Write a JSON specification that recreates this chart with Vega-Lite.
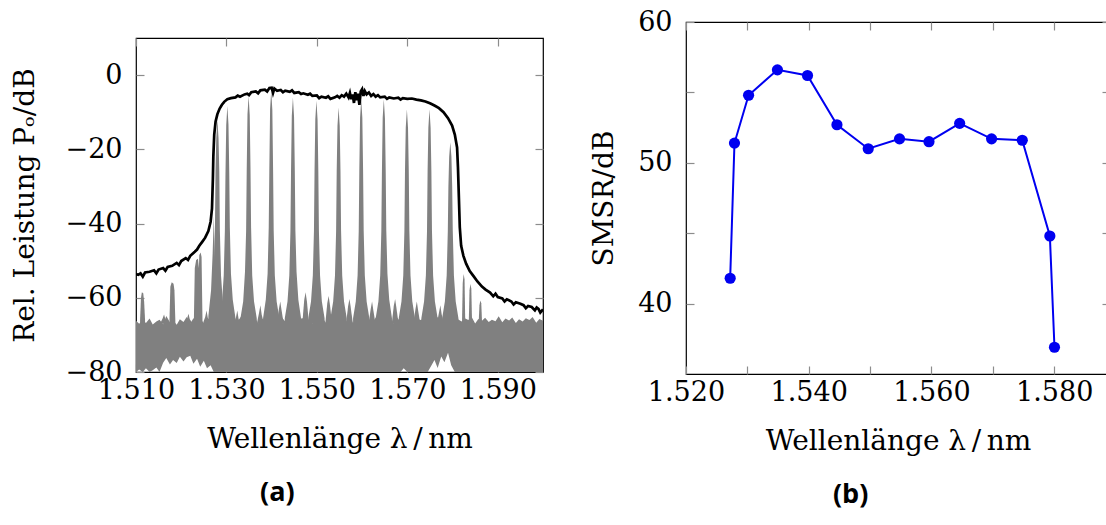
{
  "$schema": "https://vega.github.io/schema/vega-lite/v6.json",
  "background": "white",
  "padding": {"left": 10, "top": 7, "right": 0, "bottom": 0},
  "spacing": 45,
  "config": {
    "concat": {"spacing": 13},
    "view": {"stroke": "#000", "strokeWidth": 1.2},
    "axis": {"domain": false, "grid": false, "tickColor": "#8c8c8c", "tickSize": -8, "tickWidth": 1.2,
      "labelFont": "DejaVu Serif", "labelFontSize": 27, "labelColor": "#000", "labelFlush": false, "labelOverlap": false,
      "titleFont": "DejaVu Serif", "titleFontSize": 28, "titleFontWeight": "normal", "titleColor": "#000"},
    "title": {"font": "Open Sans", "fontSize": 27, "fontWeight": "bold", "color": "#000"}
  },
  "datasets": {
    "floor": [
      {"x":1510.0,"hi":-66.2,"lo":-80},{"x":1510.7,"hi":-67.0,"lo":-79.3},{"x":1511.5,"hi":-66.0,"lo":-80},{"x":1512.2,"hi":-66.8,"lo":-79.0},
      {"x":1513.0,"hi":-65.6,"lo":-80},{"x":1513.7,"hi":-67.2,"lo":-79.5},{"x":1514.5,"hi":-66.4,"lo":-78.8},{"x":1515.2,"hi":-65.9,"lo":-80},
      {"x":1516.0,"hi":-67.1,"lo":-77.5},{"x":1516.7,"hi":-64.9,"lo":-76.2},{"x":1517.5,"hi":-66.6,"lo":-78.0},{"x":1518.2,"hi":-66.0,"lo":-76.8},
      {"x":1519.0,"hi":-67.3,"lo":-77.6},{"x":1519.7,"hi":-65.8,"lo":-75.9},{"x":1520.5,"hi":-66.5,"lo":-77.2},{"x":1521.2,"hi":-65.2,"lo":-76.0},
      {"x":1522.0,"hi":-66.9,"lo":-75.6},{"x":1522.7,"hi":-65.5,"lo":-77.8},{"x":1523.5,"hi":-66.3,"lo":-76.4},{"x":1524.2,"hi":-65.7,"lo":-78.6},
      {"x":1525.0,"hi":-66.8,"lo":-77.0},{"x":1525.7,"hi":-65.3,"lo":-79.0},{"x":1526.5,"hi":-66.1,"lo":-78.2},{"x":1527.2,"hi":-65.6,"lo":-80},
      {"x":1528.0,"hi":-66.4,"lo":-80},{"x":1528.7,"hi":-65.0,"lo":-80},{"x":1529.5,"hi":-66.2,"lo":-80},{"x":1530.2,"hi":-65.4,"lo":-80},
      {"x":1531.0,"hi":-66.7,"lo":-80},{"x":1531.7,"hi":-65.8,"lo":-80},{"x":1532.5,"hi":-66.3,"lo":-80},{"x":1533.2,"hi":-65.1,"lo":-80},
      {"x":1534.0,"hi":-66.6,"lo":-80},{"x":1534.7,"hi":-65.7,"lo":-80},{"x":1535.5,"hi":-66.2,"lo":-80},{"x":1536.2,"hi":-65.0,"lo":-80},
      {"x":1537.0,"hi":-66.9,"lo":-80},{"x":1537.7,"hi":-65.6,"lo":-80},{"x":1538.5,"hi":-66.0,"lo":-80},{"x":1539.2,"hi":-65.3,"lo":-80},
      {"x":1540.0,"hi":-66.5,"lo":-80},{"x":1540.7,"hi":-65.9,"lo":-80},{"x":1541.5,"hi":-66.8,"lo":-80},{"x":1542.2,"hi":-65.2,"lo":-80},
      {"x":1543.0,"hi":-66.4,"lo":-80},{"x":1543.7,"hi":-65.7,"lo":-80},{"x":1544.5,"hi":-66.1,"lo":-80},{"x":1545.2,"hi":-65.0,"lo":-80},
      {"x":1546.0,"hi":-66.6,"lo":-80},{"x":1546.7,"hi":-65.4,"lo":-80},{"x":1547.5,"hi":-66.3,"lo":-80},{"x":1548.2,"hi":-65.8,"lo":-80},
      {"x":1549.0,"hi":-66.9,"lo":-80},{"x":1549.7,"hi":-65.5,"lo":-80},{"x":1550.5,"hi":-66.0,"lo":-80},{"x":1551.2,"hi":-65.3,"lo":-80},
      {"x":1552.0,"hi":-66.7,"lo":-80},{"x":1552.7,"hi":-65.6,"lo":-80},{"x":1553.5,"hi":-66.2,"lo":-80},{"x":1554.2,"hi":-65.1,"lo":-80},
      {"x":1555.0,"hi":-66.5,"lo":-80},{"x":1555.7,"hi":-65.9,"lo":-80},{"x":1556.5,"hi":-66.4,"lo":-80},{"x":1557.2,"hi":-65.2,"lo":-80},
      {"x":1558.0,"hi":-66.8,"lo":-80},{"x":1558.7,"hi":-65.7,"lo":-80},{"x":1559.5,"hi":-66.0,"lo":-80},{"x":1560.2,"hi":-65.4,"lo":-80},
      {"x":1561.0,"hi":-66.6,"lo":-80},{"x":1561.7,"hi":-65.8,"lo":-80},{"x":1562.5,"hi":-66.3,"lo":-80},{"x":1563.2,"hi":-65.0,"lo":-80},
      {"x":1564.0,"hi":-66.7,"lo":-80},{"x":1564.7,"hi":-65.5,"lo":-80},{"x":1565.5,"hi":-66.1,"lo":-80},{"x":1566.2,"hi":-65.6,"lo":-80},
      {"x":1567.0,"hi":-66.9,"lo":-80},{"x":1567.7,"hi":-65.3,"lo":-80},{"x":1568.5,"hi":-66.4,"lo":-80},{"x":1569.2,"hi":-65.8,"lo":-79.0},
      {"x":1570.0,"hi":-66.2,"lo":-80},{"x":1570.7,"hi":-65.1,"lo":-80},{"x":1571.5,"hi":-66.5,"lo":-80},{"x":1572.2,"hi":-65.7,"lo":-80},
      {"x":1573.0,"hi":-66.0,"lo":-80},{"x":1573.7,"hi":-65.4,"lo":-80},{"x":1574.5,"hi":-66.8,"lo":-80},{"x":1575.2,"hi":-65.9,"lo":-78.5},
      {"x":1576.0,"hi":-66.3,"lo":-76.8},{"x":1576.7,"hi":-65.2,"lo":-78.9},{"x":1577.5,"hi":-66.6,"lo":-75.8},{"x":1578.2,"hi":-65.6,"lo":-77.4},
      {"x":1579.0,"hi":-66.1,"lo":-74.8},{"x":1579.7,"hi":-65.3,"lo":-78.2},{"x":1580.5,"hi":-66.7,"lo":-80},{"x":1581.2,"hi":-65.8,"lo":-80},
      {"x":1582.0,"hi":-66.4,"lo":-80},{"x":1582.7,"hi":-65.5,"lo":-80},{"x":1583.5,"hi":-66.0,"lo":-80},{"x":1584.2,"hi":-65.1,"lo":-80},
      {"x":1585.0,"hi":-66.9,"lo":-80},{"x":1585.7,"hi":-65.7,"lo":-80},{"x":1586.5,"hi":-66.2,"lo":-80},{"x":1587.2,"hi":-65.4,"lo":-80},
      {"x":1588.0,"hi":-66.5,"lo":-80},{"x":1588.7,"hi":-65.9,"lo":-80},{"x":1589.5,"hi":-66.3,"lo":-80},{"x":1590.2,"hi":-65.0,"lo":-80},
      {"x":1591.0,"hi":-66.6,"lo":-80},{"x":1591.7,"hi":-65.6,"lo":-80},{"x":1592.5,"hi":-66.1,"lo":-80},{"x":1593.2,"hi":-65.3,"lo":-80},
      {"x":1594.0,"hi":-66.8,"lo":-80},{"x":1594.7,"hi":-65.8,"lo":-80},{"x":1595.5,"hi":-66.4,"lo":-80},{"x":1596.2,"hi":-65.5,"lo":-80},
      {"x":1597.0,"hi":-66.0,"lo":-80},{"x":1597.7,"hi":-65.2,"lo":-80},{"x":1598.5,"hi":-66.7,"lo":-80},{"x":1599.2,"hi":-65.7,"lo":-80},
      {"x":1600.0,"hi":-66.2,"lo":-80}
    ],
    "peaks": [
      {"c":"A","x":1526.0,"y":-65},{"c":"A","x":1526.6,"y":-58},{"c":"A","x":1526.95,"y":-48},{"c":"A","x":1527.2,"y":-38},{"c":"A","x":1527.4,"y":-47},{"c":"A","x":1527.7,"y":-60},
      {"c":"B","x":1526.2,"y":-65.5},{"c":"B","x":1526.8,"y":-61},{"c":"B","x":1527.2,"y":-54},{"c":"B","x":1527.45,"y":-42},{"c":"B","x":1527.58,"y":-26},{"c":"B","x":1527.75,"y":-17},{"c":"B","x":1528.0,"y":-12},{"c":"B","x":1528.25,"y":-17},{"c":"B","x":1528.42,"y":-26},{"c":"B","x":1528.55,"y":-42},{"c":"B","x":1528.8,"y":-54},{"c":"B","x":1529.2,"y":-61},{"c":"B","x":1529.8,"y":-65.5},
      {"c":"C","x":1528.4,"y":-65.5},{"c":"C","x":1529.0,"y":-61.5},{"c":"C","x":1529.4,"y":-54},{"c":"C","x":1529.65,"y":-42},{"c":"C","x":1529.78,"y":-27},{"c":"C","x":1529.95,"y":-13.5},{"c":"C","x":1530.2,"y":-8.3},{"c":"C","x":1530.45,"y":-13.3},{"c":"C","x":1530.62,"y":-26},{"c":"C","x":1530.75,"y":-41},{"c":"C","x":1531.0,"y":-53.5},{"c":"C","x":1531.4,"y":-60.5},{"c":"C","x":1532.0,"y":-65.5},
      {"c":"D","x":1533.1,"y":-65.5},{"c":"D","x":1533.7,"y":-61},{"c":"D","x":1534.1,"y":-53},{"c":"D","x":1534.35,"y":-42},{"c":"D","x":1534.48,"y":-26},{"c":"D","x":1534.65,"y":-10.6},{"c":"D","x":1534.9,"y":-5.6},{"c":"D","x":1535.15,"y":-10.8},{"c":"D","x":1535.32,"y":-25},{"c":"D","x":1535.45,"y":-41},{"c":"D","x":1535.7,"y":-54},{"c":"D","x":1536.1,"y":-61},{"c":"D","x":1536.7,"y":-65.5},
      {"c":"E","x":1538.1,"y":-65.5},{"c":"E","x":1538.7,"y":-60.5},{"c":"E","x":1539.1,"y":-53.5},{"c":"E","x":1539.35,"y":-41},{"c":"E","x":1539.48,"y":-26},{"c":"E","x":1539.65,"y":-9.2},{"c":"E","x":1539.9,"y":-4.2},{"c":"E","x":1540.15,"y":-9.4},{"c":"E","x":1540.32,"y":-26},{"c":"E","x":1540.45,"y":-42},{"c":"E","x":1540.7,"y":-54},{"c":"E","x":1541.1,"y":-61},{"c":"E","x":1541.7,"y":-65.5},
      {"c":"F","x":1542.9,"y":-65.5},{"c":"F","x":1543.5,"y":-61},{"c":"F","x":1543.9,"y":-54},{"c":"F","x":1544.15,"y":-42},{"c":"F","x":1544.28,"y":-26},{"c":"F","x":1544.45,"y":-11},{"c":"F","x":1544.7,"y":-6.0},{"c":"F","x":1544.95,"y":-11.2},{"c":"F","x":1545.12,"y":-26},{"c":"F","x":1545.25,"y":-42},{"c":"F","x":1545.5,"y":-53},{"c":"F","x":1545.9,"y":-60.5},{"c":"F","x":1546.5,"y":-65.5},
      {"c":"G","x":1548.1,"y":-65.5},{"c":"G","x":1548.7,"y":-61},{"c":"G","x":1549.1,"y":-54},{"c":"G","x":1549.35,"y":-42},{"c":"G","x":1549.48,"y":-26},{"c":"G","x":1549.65,"y":-11.9},{"c":"G","x":1549.9,"y":-6.9},{"c":"G","x":1550.15,"y":-12},{"c":"G","x":1550.32,"y":-26},{"c":"G","x":1550.45,"y":-42},{"c":"G","x":1550.7,"y":-54},{"c":"G","x":1551.1,"y":-61},{"c":"G","x":1551.7,"y":-65.5},
      {"c":"H","x":1553.0,"y":-65.5},{"c":"H","x":1553.6,"y":-61},{"c":"H","x":1554.0,"y":-54},{"c":"H","x":1554.25,"y":-42},{"c":"H","x":1554.38,"y":-26},{"c":"H","x":1554.55,"y":-13.7},{"c":"H","x":1554.8,"y":-8.7},{"c":"H","x":1555.05,"y":-13.7},{"c":"H","x":1555.22,"y":-26},{"c":"H","x":1555.35,"y":-42},{"c":"H","x":1555.6,"y":-54},{"c":"H","x":1556.0,"y":-61},{"c":"H","x":1556.6,"y":-65.5},
      {"c":"I","x":1558.0,"y":-65.5},{"c":"I","x":1558.6,"y":-61},{"c":"I","x":1559.0,"y":-54},{"c":"I","x":1559.25,"y":-42},{"c":"I","x":1559.38,"y":-26},{"c":"I","x":1559.55,"y":-11.5},{"c":"I","x":1559.8,"y":-6.5},{"c":"I","x":1560.05,"y":-11.5},{"c":"I","x":1560.22,"y":-26},{"c":"I","x":1560.35,"y":-42},{"c":"I","x":1560.6,"y":-54},{"c":"I","x":1561.0,"y":-61},{"c":"I","x":1561.6,"y":-65.5},
      {"c":"J","x":1563.0,"y":-65.5},{"c":"J","x":1563.6,"y":-61},{"c":"J","x":1564.0,"y":-54},{"c":"J","x":1564.25,"y":-42},{"c":"J","x":1564.38,"y":-26},{"c":"J","x":1564.55,"y":-11.5},{"c":"J","x":1564.8,"y":-6.5},{"c":"J","x":1565.05,"y":-11.6},{"c":"J","x":1565.22,"y":-26},{"c":"J","x":1565.35,"y":-42},{"c":"J","x":1565.6,"y":-53.5},{"c":"J","x":1566.0,"y":-60.5},{"c":"J","x":1566.6,"y":-65.5},
      {"c":"K","x":1568.1,"y":-65.5},{"c":"K","x":1568.7,"y":-61},{"c":"K","x":1569.1,"y":-54},{"c":"K","x":1569.35,"y":-42},{"c":"K","x":1569.48,"y":-26},{"c":"K","x":1569.65,"y":-14.2},{"c":"K","x":1569.9,"y":-9.2},{"c":"K","x":1570.15,"y":-14.2},{"c":"K","x":1570.32,"y":-26},{"c":"K","x":1570.45,"y":-42},{"c":"K","x":1570.7,"y":-54},{"c":"K","x":1571.1,"y":-61},{"c":"K","x":1571.7,"y":-65.5},
      {"c":"L","x":1573.1,"y":-65.5},{"c":"L","x":1573.7,"y":-61},{"c":"L","x":1574.1,"y":-54},{"c":"L","x":1574.35,"y":-42},{"c":"L","x":1574.48,"y":-26},{"c":"L","x":1574.65,"y":-14.2},{"c":"L","x":1574.9,"y":-9.2},{"c":"L","x":1575.15,"y":-14.2},{"c":"L","x":1575.32,"y":-26},{"c":"L","x":1575.45,"y":-42},{"c":"L","x":1575.7,"y":-54},{"c":"L","x":1576.1,"y":-61},{"c":"L","x":1576.7,"y":-65.5},
      {"c":"M","x":1577.7,"y":-65.5},{"c":"M","x":1578.3,"y":-61},{"c":"M","x":1578.7,"y":-54},{"c":"M","x":1578.95,"y":-42},{"c":"M","x":1579.08,"y":-30},{"c":"M","x":1579.25,"y":-22},{"c":"M","x":1579.5,"y":-18.1},{"c":"M","x":1579.75,"y":-22},{"c":"M","x":1579.92,"y":-30},{"c":"M","x":1580.05,"y":-42},{"c":"M","x":1580.3,"y":-54},{"c":"M","x":1580.7,"y":-61},{"c":"M","x":1581.3,"y":-65.5},
      {"c":"h1","x":1515.5,"y":-66.5},{"c":"h1","x":1515.9,"y":-65.5},{"c":"h1","x":1516.2,"y":-64.5},{"c":"h1","x":1516.5,"y":-65.8},{"c":"h1","x":1516.9,"y":-66.5},
      {"c":"h2","x":1520.9,"y":-66.5},{"c":"h2","x":1521.3,"y":-65.6},{"c":"h2","x":1521.6,"y":-64.3},{"c":"h2","x":1521.9,"y":-65.8},{"c":"h2","x":1522.3,"y":-66.5},
      {"c":"h3","x":1524.9,"y":-66.5},{"c":"h3","x":1525.3,"y":-65.2},{"c":"h3","x":1525.6,"y":-63.4},{"c":"h3","x":1525.9,"y":-65.6},{"c":"h3","x":1526.3,"y":-66.5},
      {"c":"h4","x":1531.7,"y":-66.5},{"c":"h4","x":1532.1,"y":-65.3},{"c":"h4","x":1532.4,"y":-63.4},{"c":"h4","x":1532.7,"y":-65.8},{"c":"h4","x":1533.1,"y":-66.5},
      {"c":"h5","x":1536.8,"y":-66.5},{"c":"h5","x":1537.2,"y":-64.1},{"c":"h5","x":1537.5,"y":-62.0},{"c":"h5","x":1537.8,"y":-64.6},{"c":"h5","x":1538.2,"y":-66.5},
      {"c":"h6","x":1541.2,"y":-66.5},{"c":"h6","x":1541.6,"y":-63.0},{"c":"h6","x":1541.9,"y":-61.0},{"c":"h6","x":1542.2,"y":-63.4},{"c":"h6","x":1542.6,"y":-66.5},
      {"c":"h7","x":1546.8,"y":-66.5},{"c":"h7","x":1547.2,"y":-60.6},{"c":"h7","x":1547.5,"y":-58.5},{"c":"h7","x":1547.8,"y":-61.0},{"c":"h7","x":1548.2,"y":-66.5},
      {"c":"h8","x":1551.9,"y":-66.5},{"c":"h8","x":1552.3,"y":-61.4},{"c":"h8","x":1552.6,"y":-59.5},{"c":"h8","x":1552.9,"y":-62.0},{"c":"h8","x":1553.3,"y":-66.5},
      {"c":"h9","x":1556.5,"y":-66.5},{"c":"h9","x":1556.9,"y":-62.3},{"c":"h9","x":1557.2,"y":-60.3},{"c":"h9","x":1557.5,"y":-62.7},{"c":"h9","x":1557.9,"y":-66.5},
      {"c":"h10","x":1561.5,"y":-66.5},{"c":"h10","x":1561.9,"y":-63.0},{"c":"h10","x":1562.2,"y":-61.0},{"c":"h10","x":1562.5,"y":-63.5},{"c":"h10","x":1562.9,"y":-66.5},
      {"c":"h11","x":1566.6,"y":-66.5},{"c":"h11","x":1567.0,"y":-62.2},{"c":"h11","x":1567.3,"y":-60.3},{"c":"h11","x":1567.6,"y":-62.8},{"c":"h11","x":1568.0,"y":-66.5},
      {"c":"h12","x":1571.4,"y":-66.5},{"c":"h12","x":1571.8,"y":-63.0},{"c":"h12","x":1572.1,"y":-61.0},{"c":"h12","x":1572.4,"y":-63.5},{"c":"h12","x":1572.8,"y":-66.5},
      {"c":"h13","x":1576.6,"y":-66.5},{"c":"h13","x":1577.0,"y":-64.0},{"c":"h13","x":1577.3,"y":-62.0},{"c":"h13","x":1577.6,"y":-64.5},{"c":"h13","x":1578.0,"y":-66.5},
      {"c":"s1","x":1510.9,"y":-66},{"c":"s1","x":1511.1,"y":-60},{"c":"s1","x":1511.3,"y":-58.5},{"c":"s1","x":1511.6,"y":-58.8},{"c":"s1","x":1511.8,"y":-61},{"c":"s1","x":1512.0,"y":-66},
      {"c":"s2","x":1517.4,"y":-66},{"c":"s2","x":1517.6,"y":-57},{"c":"s2","x":1517.9,"y":-55.8},{"c":"s2","x":1518.3,"y":-56.2},{"c":"s2","x":1518.5,"y":-58},{"c":"s2","x":1518.7,"y":-66},
      {"c":"s3","x":1522.8,"y":-66},{"c":"s3","x":1523.0,"y":-52},{"c":"s3","x":1523.3,"y":-49.8},{"c":"s3","x":1523.7,"y":-49.5},{"c":"s3","x":1523.9,"y":-52},{"c":"s3","x":1524.0,"y":-48.5},{"c":"s3","x":1524.3,"y":-47.8},{"c":"s3","x":1524.5,"y":-49},{"c":"s3","x":1524.7,"y":-66},
      {"c":"s4","x":1582.1,"y":-66},{"c":"s4","x":1582.25,"y":-56},{"c":"s4","x":1582.45,"y":-53.6},{"c":"s4","x":1582.65,"y":-55},{"c":"s4","x":1582.8,"y":-66},
      {"c":"s5","x":1583.6,"y":-66},{"c":"s5","x":1583.75,"y":-58},{"c":"s5","x":1583.95,"y":-56.3},{"c":"s5","x":1584.15,"y":-57.5},{"c":"s5","x":1584.3,"y":-66},
      {"c":"s6","x":1585.8,"y":-66},{"c":"s6","x":1585.95,"y":-62},{"c":"s6","x":1586.15,"y":-60.7},{"c":"s6","x":1586.35,"y":-61.5},{"c":"s6","x":1586.5,"y":-66}
    ],
    "env": [
      {"x":1510.0,"p":-53.6},{"x":1510.5,"p":-53.8},{"x":1511.0,"p":-53.4},{"x":1511.5,"p":-54.3},{"x":1512.0,"p":-53.2},{"x":1513.0,"p":-53.0},
      {"x":1514.0,"p":-52.6},{"x":1514.5,"p":-53.4},{"x":1515.0,"p":-52.4},{"x":1516.0,"p":-52.0},{"x":1516.5,"p":-52.7},{"x":1517.0,"p":-51.7},
      {"x":1518.0,"p":-51.4},{"x":1519.0,"p":-50.6},{"x":1519.5,"p":-51.2},{"x":1520.0,"p":-50.1},{"x":1521.0,"p":-49.3},{"x":1521.5,"p":-49.8},
      {"x":1522.0,"p":-48.7},{"x":1523.0,"p":-47.6},{"x":1523.5,"p":-47.0},{"x":1524.0,"p":-46.0},{"x":1524.6,"p":-45.0},{"x":1525.3,"p":-43.8},
      {"x":1526.0,"p":-42.0},{"x":1526.5,"p":-39.5},{"x":1526.8,"p":-36},{"x":1527.0,"p":-28},{"x":1527.1,"p":-22},{"x":1527.3,"p":-16},
      {"x":1527.6,"p":-12.5},{"x":1528.0,"p":-10.5},{"x":1528.5,"p":-9.0},{"x":1529.0,"p":-8.0},{"x":1529.5,"p":-7.2},{"x":1530.2,"p":-6.5},
      {"x":1531.0,"p":-6.2},{"x":1532.0,"p":-6.0},{"x":1532.5,"p":-5.5},{"x":1533.0,"p":-5.8},{"x":1534.0,"p":-5.2},{"x":1534.6,"p":-5.0},
      {"x":1535.0,"p":-5.4},{"x":1535.5,"p":-4.6},{"x":1536.5,"p":-4.4},{"x":1537.0,"p":-4.9},{"x":1537.5,"p":-4.1},{"x":1538.5,"p":-3.9},
      {"x":1539.0,"p":-4.4},{"x":1539.5,"p":-3.5},{"x":1540.0,"p":-3.4},{"x":1540.3,"p":-4.8},{"x":1540.6,"p":-3.6},{"x":1541.2,"p":-4.2},
      {"x":1542.0,"p":-4.0},{"x":1542.5,"p":-4.6},{"x":1543.0,"p":-4.2},{"x":1544.0,"p":-4.5},{"x":1544.5,"p":-4.1},{"x":1545.0,"p":-4.8},
      {"x":1546.0,"p":-4.6},{"x":1546.5,"p":-5.1},{"x":1547.0,"p":-4.9},{"x":1548.0,"p":-5.3},{"x":1548.5,"p":-5.0},{"x":1549.0,"p":-5.6},
      {"x":1550.0,"p":-5.5},{"x":1550.5,"p":-6.2},{"x":1551.0,"p":-5.8},{"x":1552.0,"p":-6.1},{"x":1552.5,"p":-5.7},{"x":1553.0,"p":-6.4},
      {"x":1554.0,"p":-6.0},{"x":1554.5,"p":-5.6},{"x":1555.0,"p":-6.1},{"x":1555.5,"p":-5.4},{"x":1556.0,"p":-5.8},{"x":1556.5,"p":-5.0},
      {"x":1557.0,"p":-6.0},{"x":1557.3,"p":-4.8},{"x":1557.6,"p":-6.5},{"x":1557.9,"p":-5.2},{"x":1558.2,"p":-7.5},{"x":1558.5,"p":-4.6},
      {"x":1558.8,"p":-6.8},{"x":1559.1,"p":-5.0},{"x":1559.4,"p":-8.0},{"x":1559.7,"p":-4.4},{"x":1560.0,"p":-3.8},{"x":1560.3,"p":-5.6},
      {"x":1560.6,"p":-4.3},{"x":1561.0,"p":-5.2},{"x":1561.5,"p":-4.7},{"x":1562.0,"p":-5.6},{"x":1562.5,"p":-5.1},{"x":1563.0,"p":-5.8},
      {"x":1563.5,"p":-5.4},{"x":1564.0,"p":-6.0},{"x":1565.0,"p":-5.8},{"x":1565.5,"p":-6.4},{"x":1566.0,"p":-6.0},{"x":1567.0,"p":-6.3},
      {"x":1568.0,"p":-6.1},{"x":1568.5,"p":-6.6},{"x":1569.0,"p":-6.2},{"x":1570.0,"p":-6.4},{"x":1571.0,"p":-6.3},{"x":1572.0,"p":-6.6},
      {"x":1573.0,"p":-6.8},{"x":1574.0,"p":-7.1},{"x":1575.0,"p":-7.6},{"x":1576.0,"p":-8.2},{"x":1577.0,"p":-8.9},{"x":1578.0,"p":-10.0},
      {"x":1579.0,"p":-11.6},{"x":1579.9,"p":-13.6},{"x":1580.5,"p":-16},{"x":1581.0,"p":-19.5},{"x":1581.2,"p":-25},{"x":1581.4,"p":-33},
      {"x":1581.6,"p":-41},{"x":1581.9,"p":-46},{"x":1582.4,"p":-48.7},{"x":1583.0,"p":-50.8},{"x":1583.8,"p":-52.8},{"x":1584.6,"p":-54.1},
      {"x":1585.5,"p":-55.6},{"x":1586.5,"p":-57.0},{"x":1587.3,"p":-57.8},{"x":1588.3,"p":-58.6},{"x":1589.0,"p":-59.6},{"x":1589.5,"p":-58.9},
      {"x":1590.0,"p":-59.8},{"x":1591.0,"p":-60.2},{"x":1591.5,"p":-61.0},{"x":1592.0,"p":-60.4},{"x":1593.0,"p":-61.0},{"x":1593.5,"p":-61.8},
      {"x":1594.0,"p":-61.2},{"x":1595.0,"p":-61.6},{"x":1595.7,"p":-62.0},{"x":1596.2,"p":-62.8},{"x":1596.7,"p":-62.2},{"x":1597.5,"p":-62.5},
      {"x":1598.2,"p":-63.4},{"x":1598.6,"p":-62.6},{"x":1599.0,"p":-63.0},{"x":1599.4,"p":-64.0},{"x":1600.0,"p":-63.1}
    ],
    "smsr": [
      {"x":1527.2,"s":41.8},{"x":1527.9,"s":51.4},{"x":1530.2,"s":54.8},{"x":1534.9,"s":56.6},{"x":1539.8,"s":56.2},
      {"x":1544.6,"s":52.7},{"x":1549.7,"s":51.0},{"x":1554.8,"s":51.7},{"x":1559.6,"s":51.5},{"x":1564.6,"s":52.8},
      {"x":1569.8,"s":51.7},{"x":1574.8,"s":51.6},{"x":1579.3,"s":44.8},{"x":1580.05,"s":36.9}
    ]
  },
  "hconcat": [
    {
      "spacing": 13,
      "vconcat": [
        {
          "width": 407,
          "height": 1,
          "view": {"stroke": null},
          "data": {"values": []},
          "mark": {"type": "point", "opacity": 0, "size": 1}
        },
        {
          "title": {"text": "(a)", "orient": "bottom", "anchor": "middle", "frame": "bounds", "offset": 27},
          "width": 407,
          "height": 334,
          "layer": [
            {
              "data": {"name": "floor"},
              "mark": {"type": "area", "color": "#808080", "opacity": 1, "clip": true},
              "encoding": {
                "x": {"field": "x", "type": "quantitative", "scale": {"domain": [1510, 1600], "nice": false, "zero": false},
                  "axis": {"orient": "bottom", "values": [1510, 1530, 1550, 1570, 1590], "labelExpr": "replace(format(datum.value, ','), ',', '.')", "labelPadding": 13, "title": "Wellenlänge λ\u2009/\u2009nm", "titlePadding": 22}},
                "y": {"field": "hi", "type": "quantitative", "scale": {"domain": [-80, 10], "nice": false, "zero": false},
                  "axis": {"orient": "left", "values": [-80, -60, -40, -20, 0], "labelPadding": 22, "title": "Rel. Leistung Pₒ/dB", "titlePadding": 26}},
                "y2": {"field": "lo"}
              }
            },
            {
              "data": {"name": "peaks"},
              "mark": {"type": "area", "color": "#808080", "opacity": 1, "clip": true},
              "encoding": {
                "x": {"field": "x", "type": "quantitative", "axis": null},
                "y": {"field": "y", "type": "quantitative", "axis": null},
                "y2": {"datum": -67},
                "detail": {"field": "c"}
              }
            },
            {
              "data": {"name": "env"},
              "mark": {"type": "line", "color": "#000", "strokeWidth": 2.7, "clip": true},
              "encoding": {
                "x": {"field": "x", "type": "quantitative",
                  "axis": {"orient": "top", "values": [1510, 1530, 1550, 1570, 1590], "labels": false, "title": null}},
                "y": {"field": "p", "type": "quantitative",
                  "axis": {"orient": "right", "values": [-80, -60, -40, -20, 0], "labels": false, "title": null}}
              }
            }
          ],
          "resolve": {"axis": {"x": "independent", "y": "independent"}}
        }
      ]
    },
    {
      "title": {"text": "(b)", "orient": "bottom", "anchor": "middle", "frame": "bounds", "offset": 27},
      "width": 424,
      "height": 352,
      "layer": [
        {
          "data": {"name": "smsr"},
          "mark": {"type": "line", "color": "#0000f0", "strokeWidth": 2},
          "encoding": {
            "x": {"field": "x", "type": "quantitative", "scale": {"domain": [1520, 1589.1], "nice": false, "zero": false},
              "axis": {"orient": "bottom", "values": [1520, 1530, 1540, 1550, 1560, 1570, 1580], "labelExpr": "(datum.value - 1520) % 20 == 0 ? replace(format(datum.value, ','), ',', '.') : ''", "labelPadding": 13, "title": "Wellenlänge λ\u2009/\u2009nm", "titlePadding": 22}},
            "y": {"field": "s", "type": "quantitative", "scale": {"domain": [35, 60], "nice": false, "zero": false},
              "axis": {"orient": "left", "values": [40, 45, 50, 55, 60], "labelExpr": "datum.value % 10 == 0 ? datum.label : ''", "labelPadding": 22, "title": "SMSR/dB", "titlePadding": 19}}
          }
        },
        {
          "data": {"name": "smsr"},
          "mark": {"type": "point", "filled": true, "color": "#0000f0", "size": 125, "opacity": 1},
          "encoding": {
            "x": {"field": "x", "type": "quantitative",
              "axis": {"orient": "top", "values": [1520, 1530, 1540, 1550, 1560, 1570, 1580], "labels": false, "title": null}},
            "y": {"field": "s", "type": "quantitative",
              "axis": {"orient": "right", "values": [40, 45, 50, 55, 60], "labels": false, "title": null}}
          }
        }
      ],
      "resolve": {"axis": {"x": "independent", "y": "independent"}}
    }
  ]
}
